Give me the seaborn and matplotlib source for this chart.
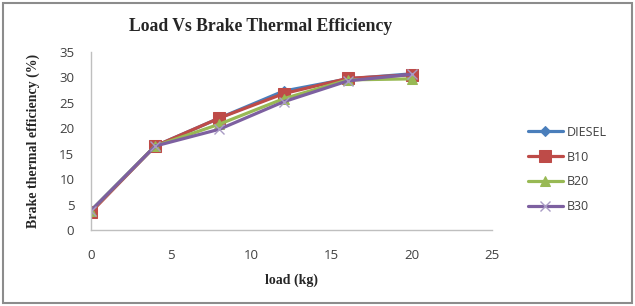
import matplotlib
matplotlib.use("Agg")
import matplotlib.pyplot as plt
import seaborn as sns
import pandas as pd
from matplotlib.patches import Rectangle

load = [0, 4, 8, 12, 16, 20]
diesel = [3.8, 16.5, 22.0, 27.3, 29.7, 30.7]
b10 = [3.5, 16.5, 22.0, 26.8, 29.8, 30.5]
b20 = [3.8, 16.5, 20.8, 25.8, 29.5, 29.7]
b30 = [3.8, 16.5, 19.8, 25.2, 29.3, 30.6]
series_names = ["DIESEL", "B10", "B20", "B30"]
x_ticks = [0, 5, 10, 15, 20, 25]
y_ticks = [0, 5, 10, 15, 20, 25, 30, 35]

sns.set_style("white")
plt.rcParams['font.family'] = ['Open Sans', 'DejaVu Sans']

rows = []
for name, vals in zip(series_names, [diesel, b10, b20, b30]):
    for x, y in zip(load, vals):
        rows.append({"load": x, "eff": y, "fuel": name})
df = pd.DataFrame(rows)

colors = {"DIESEL": "#4A7EBB", "B10": "#BE4B48", "B20": "#98B954", "B30": "#7D60A0"}
markers = {"DIESEL": "D", "B10": "s", "B20": "^", "B30": "x"}
msizes = {"DIESEL": 5, "B10": 8, "B20": 7, "B30": 7}

fig = plt.figure(figsize=(6.35, 3.06), dpi=100)
ax = fig.add_axes([0.1433, 0.2484, 0.632, 0.582])

for name in series_names:
    sub = df[df["fuel"] == name]
    kw = dict(markeredgecolor=colors[name])
    if name == "B30":
        kw = dict(markeredgecolor="#A99BC4", markeredgewidth=1.0)
    sns.lineplot(data=sub, x="load", y="eff", ax=ax, color=colors[name],
                 marker=markers[name], markersize=msizes[name], linewidth=2.3,
                 label=name, **kw)

ax.set_xlim(0, 25)
ax.set_ylim(0, 35)
ax.set_xticks(x_ticks)
ax.set_yticks(y_ticks)
for s in ["top", "right"]:
    ax.spines[s].set_visible(False)
for s in ["left", "bottom"]:
    ax.spines[s].set_color("#BFBFBF")
    ax.spines[s].set_linewidth(1)
ax.tick_params(axis="x", labelsize=9.5, colors="#404040", pad=14, length=0)
ax.tick_params(axis="y", labelsize=9.5, colors="#404040", pad=12, length=0)
ax.set_xlabel("load (kg)", family=["Liberation Serif"], fontweight="bold", fontsize=10, labelpad=8)
ax.set_ylabel("Brake thermal efficiency (%)", family=["Liberation Serif"], fontweight="bold",
              fontsize=10, labelpad=14)
fig.text(0.41, 0.915, "Load Vs Brake Thermal Efficiency", family=["Liberation Serif"],
         fontweight="bold", fontsize=12.7, ha="center", va="center")

leg = ax.legend(loc="center left", bbox_to_anchor=(1.06, 0.34), frameon=False,
                fontsize=9, handlelength=2.8, labelspacing=0.95, handletextpad=0.3)
for t in leg.get_texts():
    t.set_color("#404040")

fig.patches.append(Rectangle((0.004, 0.01), 0.992, 0.98, transform=fig.transFigure,
                             fill=False, edgecolor="#8C8C8C", linewidth=1.5))

fig.savefig("out.png", dpi=100)
